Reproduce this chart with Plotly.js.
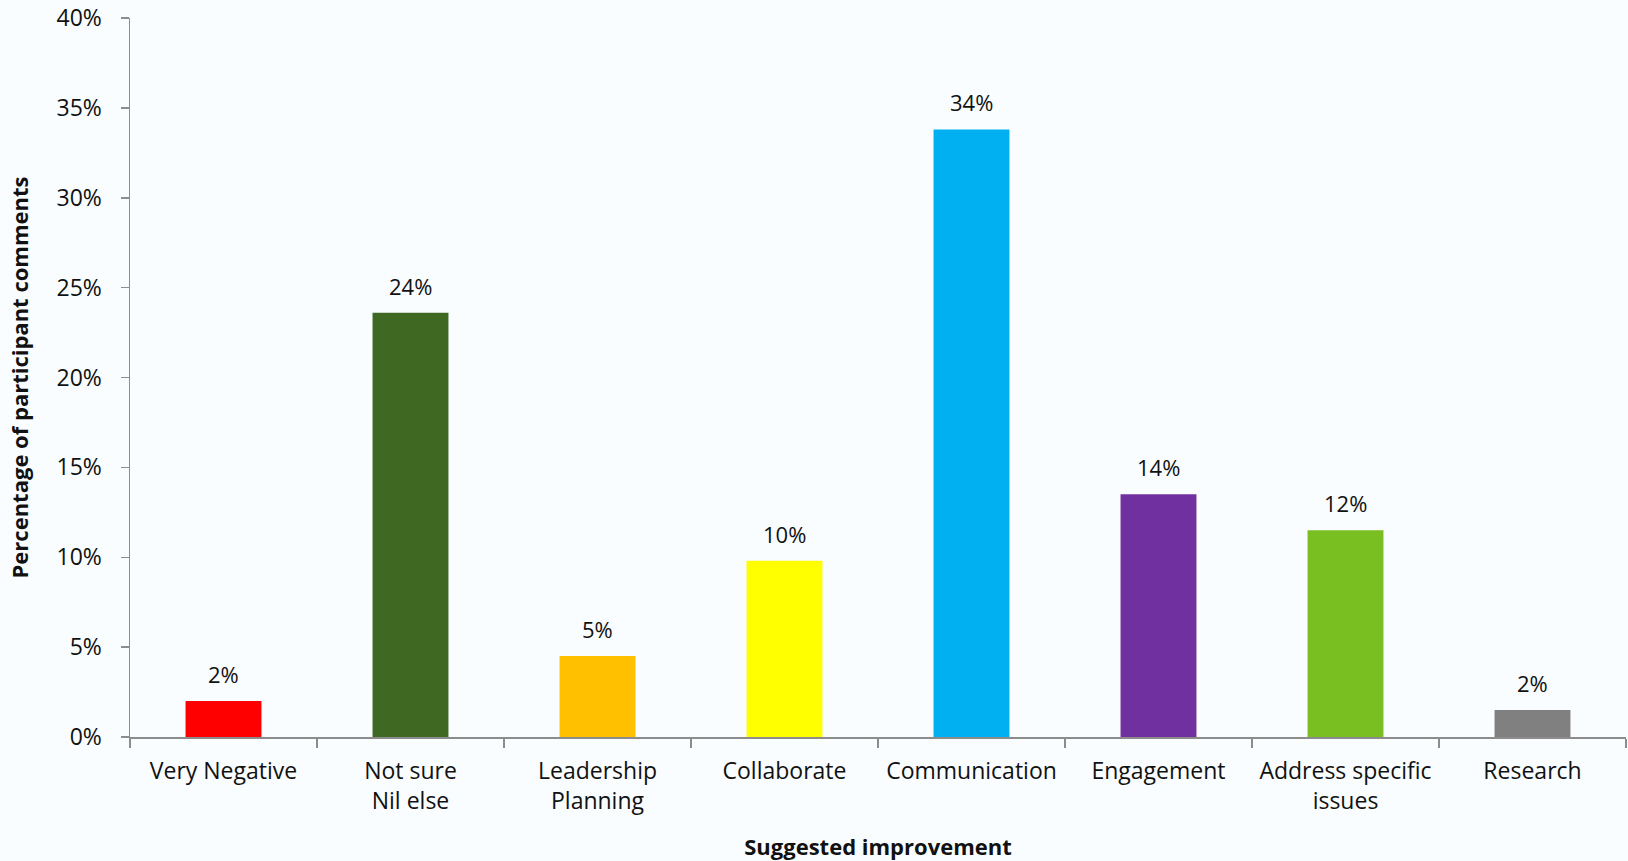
<!DOCTYPE html>
<html>
<head>
<meta charset="utf-8">
<script src="https://cdn.plot.ly/plotly-3.0.1.min.js"></script>
<style>
  html, body { margin: 0; padding: 0; background: #f9fdff; }
  #chart { width: 1628px; height: 861px; }
</style>
</head>
<body>
<div id="chart"></div>
<script>
const categories = ["Very Negative", "Not sure<br>Nil else", "Leadership<br>Planning", "Collaborate", "Communication", "Engagement", "Address specific<br>issues", "Research"];
const values = [2.0, 23.6, 4.5, 9.8, 33.8, 13.5, 11.5, 1.5];
const labels = ["2%", "24%", "5%", "10%", "34%", "14%", "12%", "2%"];
const colors = ["#ff0000", "#3f6922", "#ffc000", "#ffff00", "#00b0f0", "#7030a0", "#79bf21", "#808080"];
const yTicks = [0, 5, 10, 15, 20, 25, 30, 35, 40];

const font = "Open Sans, Liberation Sans, sans-serif";
const txt = "#111111";

const trace = {
  type: "bar",
  x: categories,
  y: values,
  marker: { color: colors, line: { width: 0 } },
  hoverinfo: "skip"
};

const annotations = categories.map((c, i) => ({
  x: c, y: values[i], xref: "x", yref: "y",
  text: labels[i], showarrow: false,
  yanchor: "bottom", yshift: 10,
  font: { family: font, size: 22, color: txt }
}));

const layout = {
  width: 1628, height: 861,
  paper_bgcolor: "#f9fdff", plot_bgcolor: "#f9fdff",
  margin: { l: 130, r: 2, t: 18, b: 124 },
  bargap: 0.594,
  showlegend: false,
  font: { family: font, size: 22, color: txt },
  xaxis: {
    type: "category",
    showline: true, linecolor: "#8c8c8c", linewidth: 1.5,
    ticks: "outside", tickson: "boundaries", ticklen: 9, tickcolor: "#8c8c8c", tickwidth: 1.5,
    tickfont: { family: font, size: 23, color: txt },
    ticklabelstandoff: 13,
    showgrid: false, zeroline: false,
    title: { text: "<b>Suggested improvement</b>", font: { family: font, size: 22, color: txt }, standoff: 24 }
  },
  yaxis: {
    range: [0, 40],
    tickvals: yTicks, ticktext: yTicks.map(v => v + "%"),
    ticklabeloverflow: "allow",
    showline: true, linecolor: "#8c8c8c", linewidth: 1.5,
    ticks: "outside", ticklen: 8, tickcolor: "#8c8c8c", tickwidth: 1.5,
    tickfont: { family: font, size: 23, color: txt },
    ticklabelstandoff: 14,
    showgrid: false, zeroline: false,
    title: { text: "<b>Percentage of participant comments</b>", font: { family: font, size: 22, color: txt }, standoff: 22 }
  },
  annotations: annotations
};

Plotly.newPlot("chart", [trace], layout, { displayModeBar: false, staticPlot: true });
</script>
</body>
</html>
